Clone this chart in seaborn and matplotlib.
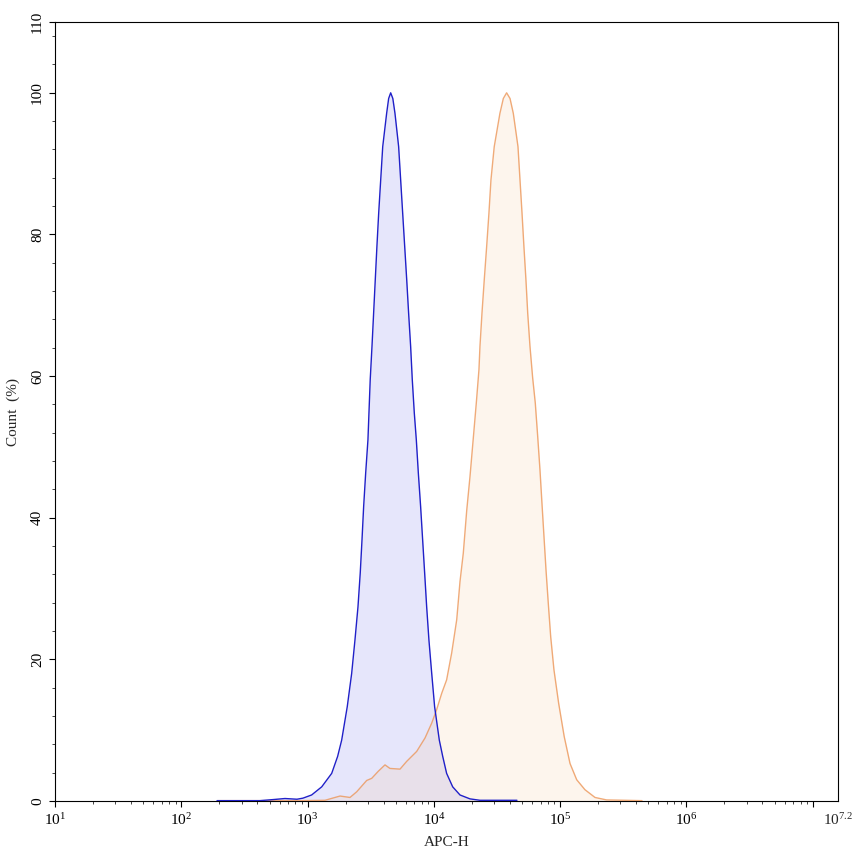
import numpy as np
import pandas as pd
import matplotlib
matplotlib.use("Agg")
import matplotlib.pyplot as plt
import matplotlib.ticker as mticker
import seaborn as sns

# histogram outlines: log10(APC-H) and count (%)
blue_log = [2.283, 2.465, 2.623, 2.726, 2.821, 2.916, 2.963, 3.032, 3.112, 3.191,
            3.238, 3.270, 3.314, 3.349, 3.375, 3.399, 3.417, 3.431, 3.444, 3.460,
            3.478, 3.486, 3.496, 3.510, 3.523, 3.536, 3.549, 3.563, 3.579, 3.595,
            3.626, 3.642, 3.658, 3.675, 3.692, 3.721, 3.737, 3.753, 3.769, 3.785,
            3.800, 3.816, 3.829, 3.845, 3.861, 3.877, 3.895, 3.911, 3.927, 3.943,
            3.961, 3.983, 4.006, 4.043, 4.070, 4.101, 4.149, 4.207, 4.286, 4.365,
            4.523, 4.658]
blue_count = [0.05, 0.05, 0.05, 0.2, 0.35, 0.25, 0.4, 0.85, 2.0, 3.9,
              6.3, 8.6, 13.3, 18.0, 22.7, 27.4, 32.2, 36.9, 41.6, 46.3,
              51.0, 54.8, 59.5, 64.2, 68.9, 73.6, 78.3, 83.0, 87.7, 92.4,
              97.1, 99.2, 100.0, 99.2, 97.1, 92.4, 87.7, 83.0, 78.3, 73.6,
              68.9, 64.2, 59.5, 54.8, 51.0, 46.3, 41.6, 36.9, 32.2, 27.4,
              22.7, 18.0, 13.3, 8.6, 6.3, 3.9, 2.0, 0.85, 0.3, 0.1,
              0.1, 0.1]

orange_log = [2.291, 2.623, 2.940, 3.138, 3.257, 3.336, 3.389, 3.468, 3.508, 3.560,
              3.613, 3.652, 3.732, 3.785, 3.864, 3.930, 3.983, 4.022, 4.062, 4.101,
              4.141, 4.181, 4.207, 4.233, 4.260, 4.286, 4.312, 4.336, 4.357, 4.365,
              4.381, 4.399, 4.418, 4.436, 4.452, 4.478, 4.523, 4.550, 4.576, 4.603,
              4.629, 4.666, 4.682, 4.698, 4.713, 4.729, 4.743, 4.761, 4.782, 4.803,
              4.822, 4.840, 4.856, 4.872, 4.888, 4.906, 4.925, 4.951, 4.988, 5.032,
              5.078, 5.131, 5.196, 5.276, 5.368, 5.513, 5.648]
orange_count = [0.05, 0.05, 0.05, 0.1, 0.7, 0.5, 1.3, 2.9, 3.2, 4.2,
                5.1, 4.6, 4.5, 5.6, 7.0, 8.9, 11.0, 12.9, 15.2, 17.1,
                20.9, 25.6, 31.0, 35.0, 41.0, 45.8, 51.2, 56.2, 60.9, 64.2,
                68.9, 73.6, 78.3, 83.0, 87.7, 92.4, 97.1, 99.2, 100.0, 99.2,
                97.1, 92.4, 87.7, 83.0, 78.3, 73.6, 68.9, 64.2, 59.8, 56.2,
                51.5, 46.8, 42.0, 37.3, 32.6, 27.9, 23.2, 18.5, 13.8, 9.1,
                5.3, 3.0, 1.6, 0.5, 0.15, 0.1, 0.05]

x_tick_exp = [1, 2, 3, 4, 5, 6, 7]
x_tick_labels = [r"$10^{1}$", r"$10^{2}$", r"$10^{3}$", r"$10^{4}$", r"$10^{5}$", r"$10^{6}$", ""]
x_end_exp = 7.2
y_ticks = [0, 20, 40, 60, 80, 100, 110]

blue = pd.DataFrame({"apc": np.power(10.0, blue_log), "count": blue_count})
orange = pd.DataFrame({"apc": np.power(10.0, orange_log), "count": orange_count})

sns.set_style("ticks")
plt.rcParams["font.family"] = ["Liberation Serif", "DejaVu Serif"]
plt.rcParams["mathtext.fontset"] = "custom"
plt.rcParams["mathtext.rm"] = "Liberation Serif"
plt.rcParams["mathtext.it"] = "Liberation Serif"

fig = plt.figure(figsize=(8.53, 8.56), dpi=100)
ax = fig.add_axes([55 / 853, 55 / 856, 783 / 853, 779 / 856])

ax.fill_between(blue["apc"], blue["count"], color="#e6e6fb", lw=0, zorder=1)
ax.fill_between(orange["apc"], orange["count"], color="#f5c9a0", alpha=0.18, lw=0, zorder=2)
sns.lineplot(data=blue, x="apc", y="count", ax=ax, color="#2020c8", lw=1.0, zorder=4)
sns.lineplot(data=orange, x="apc", y="count", ax=ax, color="#ec9658", lw=1.0, alpha=0.8, zorder=3)

ax.set_xscale("log")
ax.set_xlim(10 ** 1, 10 ** x_end_exp)
ax.set_ylim(0, 110)

ax.xaxis.set_major_locator(mticker.FixedLocator([10.0 ** e for e in x_tick_exp]))
ax.xaxis.set_major_formatter(mticker.FixedFormatter(x_tick_labels))
ax.xaxis.set_minor_locator(mticker.LogLocator(base=10, subs=np.arange(2, 10), numticks=20))
ax.xaxis.set_minor_formatter(mticker.NullFormatter())
# label at the right end of the axis
ax.text(10 ** x_end_exp, -1.6, r"$10^{7.2}$", ha="center", va="top", fontsize=11)

ax.yaxis.set_major_locator(mticker.FixedLocator(y_ticks))
ax.yaxis.set_minor_locator(mticker.MultipleLocator(4))
for lab in ax.get_yticklabels():
    lab.set_rotation(90)
    lab.set_va("center")

ax.tick_params(axis="both", which="major", direction="out", length=4, width=0.8,
               labelsize=11, colors="black")
ax.tick_params(axis="both", which="minor", direction="out", length=2, width=0.6)
ax.tick_params(axis="x", pad=4)
ax.tick_params(axis="y", pad=4)

for side in ["top", "right", "bottom", "left"]:
    ax.spines[side].set_visible(True)
    ax.spines[side].set_linewidth(0.8)
    ax.spines[side].set_color("black")

ax.set_xlabel("APC-H", fontsize=11, labelpad=6)
ax.set_ylabel("Count  (%)", fontsize=11, labelpad=8)

plt.savefig("out.png", dpi=100)
